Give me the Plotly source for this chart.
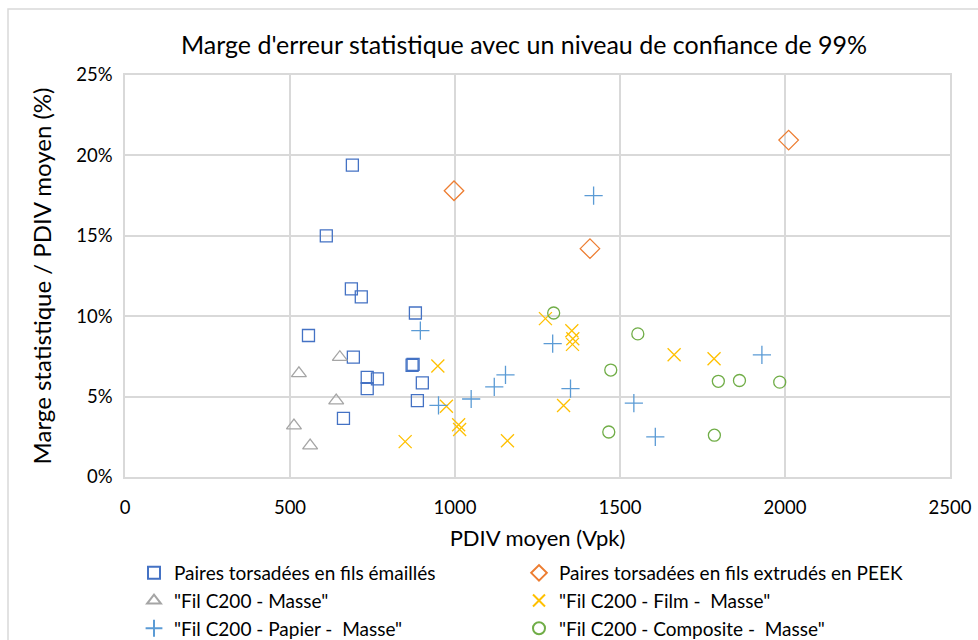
import plotly.graph_objects as go

# PDIV moyen (Vpk) and statistical margin (% of mean PDIV) per sample family
email_x = [689, 610, 686, 716, 880, 556, 692, 870, 873, 734, 765, 734, 901, 886, 662]
email_y = [19.4, 15.0, 11.7, 11.2, 10.2, 8.8, 7.45, 6.95, 7.0, 6.2, 6.1, 5.5, 5.85, 4.75, 3.65]

peek_x = [997, 1409, 2011]
peek_y = [17.8, 14.2, 20.95]

masse_x = [651, 527, 640, 512, 561]
masse_y = [7.45, 6.45, 4.75, 3.2, 1.95]

film_x = [1274, 1354, 1357, 1356, 948, 974, 1329, 1011, 1014, 1159, 1664, 1785, 849]
film_y = [9.85, 9.1, 8.6, 8.25, 6.9, 4.4, 4.45, 3.25, 2.95, 2.25, 7.6, 7.35, 2.2]

papier_x = [1420, 1296, 895, 1153, 1119, 1350, 1049, 950, 1542, 1607, 1930]
papier_y = [17.5, 8.3, 9.1, 6.35, 5.6, 5.5, 4.85, 4.45, 4.6, 2.5, 7.6]

composite_x = [1299, 1554, 1472, 1466, 1798, 1862, 1984, 1786]
composite_y = [10.2, 8.9, 6.65, 2.8, 5.95, 6.0, 5.9, 2.6]

FONT = "Lato, Calibri, Carlito, sans-serif"
TEXT = "#000000"
GRID = "#d9d9d9"

# (name, x, y, symbol, colour, size, legend column)
series = [
    ("Paires torsadées en fils émaillés", email_x, email_y, "square-open", "#4472C4", 12, "legend"),
    ("Paires torsadées en fils extrudés en PEEK", peek_x, peek_y, "diamond-open", "#ED7D31", 15, "legend2"),
    ("\"Fil C200 - Masse\"", masse_x, masse_y, "triangle-up-open", "#A5A5A5", 13, "legend"),
    ("\"Fil C200 - Film -  Masse\"", film_x, film_y, "x-thin-open", "#FFC000", 13, "legend2"),
    ("\"Fil C200 - Papier -  Masse\"", papier_x, papier_y, "cross-thin-open", "#5B9BD5", 13, "legend"),
    ("\"Fil C200 - Composite -  Masse\"", composite_x, composite_y, "circle-open", "#70AD47", 12, "legend2"),
]

fig = go.Figure()
for name, xs, ys, sym, col, size, leg in series:
    fig.add_trace(go.Scatter(
        x=xs, y=ys, mode="markers", name=name, legend=leg,
        marker=dict(symbol=sym, size=size, color=col,
                    line=dict(color=col, width=1.3)),
    ))

PLOT_W, PLOT_H, PLOT_L, PLOT_B = 825, 402, 125, 477
legend_top = -(554 - PLOT_B) / PLOT_H
legend_style = dict(orientation="v", xanchor="left", y=legend_top, yanchor="top",
                    font=dict(size=19, family=FONT, color=TEXT),
                    tracegroupgap=0, itemsizing="constant",
                    bgcolor="rgba(0,0,0,0)")

fig.update_layout(
    width=978, height=640,
    margin=dict(l=125, r=28, t=75, b=163, autoexpand=False),
    paper_bgcolor="white", plot_bgcolor="white",
    font=dict(family=FONT, color=TEXT, size=18),
    title=dict(text="Marge d'erreur statistique avec un niveau de confiance de 99%",
               x=524 / 978, xanchor="center", xref="container",
               y=1 - 45 / 640, yanchor="middle", yref="container",
               font=dict(size=25, family=FONT, color=TEXT)),
    xaxis=dict(range=[0, 2500], dtick=500, tick0=0,
               showgrid=True, gridcolor=GRID, gridwidth=1.5,
               showline=True, linecolor=GRID, linewidth=1.5, mirror=True,
               zeroline=False, ticks="", ticklabelstandoff=13,
               tickfont=dict(size=18.5),
               title=dict(text="PDIV moyen (Vpk)", font=dict(size=22), standoff=14)),
    yaxis=dict(range=[0, 25], dtick=5, tick0=0, ticksuffix="%",
               showgrid=True, gridcolor=GRID, gridwidth=1.5,
               showline=True, linecolor=GRID, linewidth=1.5, mirror=True,
               zeroline=False, ticks="", ticklabelstandoff=7,
               tickfont=dict(size=18.5),
               title=dict(text="Marge statistique / PDIV moyen (%)",
                          font=dict(size=24), standoff=18)),
    legend=dict(x=(134 - PLOT_L) / PLOT_W, **legend_style),
    legend2=dict(x=(519 - PLOT_L) / PLOT_W, **legend_style),
    showlegend=True,
)

# light outer frame of the chart area
fig.add_shape(type="rect", xref="paper", yref="paper",
              x0=(8 - PLOT_L) / PLOT_W, x1=(1000 - PLOT_L) / PLOT_W,
              y0=(PLOT_B - 660) / PLOT_H, y1=(PLOT_B - 9) / PLOT_H,
              line=dict(color=GRID, width=1.5), fillcolor="rgba(0,0,0,0)",
              layer="below")

fig.write_html("out.html")
